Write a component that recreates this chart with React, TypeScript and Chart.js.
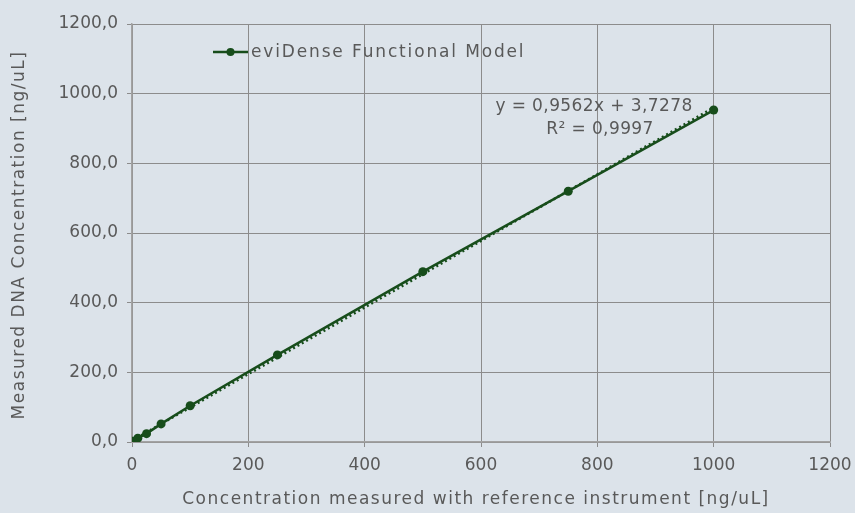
import React, { useEffect, useRef } from "react";
import { Chart, registerables } from "chart.js";

Chart.register(...registerables);

const refConc = [1, 10, 25, 50, 100, 250, 500, 750, 1000];
const measured = [2, 11, 24, 52, 104, 250, 489, 720, 953];
const trendX = [1, 1000];
const trendY = [4.7, 959.9];
const seriesName = "eviDense Functional Model";
const equationLines = ["y = 0,9562x + 3,7278", "R² = 0,9997"];
const xTitle = "Concentration measured with reference instrument [ng/uL]";
const yTitle = "Measured DNA Concentration [ng/uL]";

const GREEN = "#174d1b";
const TEXT = "#595959";
const FONT = "'DejaVu Sans', sans-serif";
const BG = "#dce3ea";

export default function App() {
  const ref = useRef<HTMLCanvasElement | null>(null);
  useEffect(() => {
    document.body.style.margin = "0";
    const ctx = ref.current!.getContext("2d")!;
    const overlay = {
      id: "overlay",
      afterDraw(chart: any) {
        const c = chart.ctx;
        const a = chart.chartArea;
        c.save();
        c.font = `17px ${FONT}`;
        (c as any).letterSpacing = "1.5px";
        c.fillStyle = TEXT;
        c.textBaseline = "middle";
        // axis titles
        c.textAlign = "center";
        c.fillText(xTitle, (a.left + a.right) / 2 - 5, 500);
        c.save();
        c.translate(20, (a.top + a.bottom) / 2 + 2);
        c.rotate(-Math.PI / 2);
        c.fillText(yTitle, 0, 0);
        c.restore();
        // legend
        const ly = a.top + 28;
        const lx = a.left + 81;
        c.strokeStyle = GREEN;
        c.lineWidth = 2.5;
        c.beginPath();
        c.moveTo(lx, ly);
        c.lineTo(lx + 35, ly);
        c.stroke();
        c.fillStyle = GREEN;
        c.beginPath();
        c.arc(lx + 17.5, ly, 4, 0, Math.PI * 2);
        c.fill();
        c.fillStyle = TEXT;
        c.textAlign = "left";
        (c as any).letterSpacing = "1.85px";
        c.fillText(seriesName, lx + 38, ly + 1);
        // equation
        (c as any).letterSpacing = "0.4px";
        c.textAlign = "center";
        c.fillText(equationLines[0], a.left + 462, a.top + 83);
        c.fillText(equationLines[1], a.left + 468, a.top + 106);
        c.restore();
      },
    };
    const chart = new Chart(ctx, {
      type: "scatter",
      data: {
        datasets: [
          {
            label: "Linear",
            data: trendX.map((x, i) => ({ x, y: trendY[i] })),
            showLine: true,
            borderColor: GREEN,
            borderWidth: 2.5,
            borderDash: [2, 3],
            pointRadius: 0,
            order: 2,
          },
          {
            label: seriesName,
            data: refConc.map((x, i) => ({ x, y: measured[i] })),
            showLine: true,
            borderColor: GREEN,
            backgroundColor: GREEN,
            borderWidth: 2.5,
            pointRadius: 4.5,
            pointBorderWidth: 0,
            order: 1,
          },
        ],
      },
      options: {
        animation: false,
        responsive: false,
        layout: { padding: { left: 0, right: 25, top: 24, bottom: 0 } },
        plugins: { legend: { display: false }, tooltip: { enabled: false } },
        scales: {
          x: {
            type: "linear",
            min: 0,
            max: 1200,
            ticks: {
              stepSize: 200,
              color: TEXT,
              font: { family: FONT, size: 17 },
              padding: 8,
              callback: (v: any) => String(v),
            },
            grid: { color: "#8c8c8c", tickLength: 5, lineWidth: 1 },
            border: { color: "#a3a3a3", width: 1.5 },
            afterFit: (s: any) => { s.height = 71; s.paddingRight = 0; s.paddingLeft = 0; },
          },
          y: {
            type: "linear",
            min: 0,
            max: 1200,
            ticks: {
              stepSize: 200,
              color: TEXT,
              font: { family: FONT, size: 17 },
              padding: 9,
              callback: (v: any) => Number(v).toFixed(1).replace(".", ","),
            },
            grid: { color: "#8c8c8c", tickLength: 5, lineWidth: 1 },
            border: { color: "#a3a3a3", width: 1.5 },
            afterFit: (s: any) => { s.width = 132; s.paddingTop = 0; s.paddingBottom = 0; },
          },
        },
      },
      plugins: [overlay],
    });
    return () => chart.destroy();
  }, []);
  return (
    <div style={{ width: 855, height: 513, background: BG }}>
      <canvas ref={ref} width={855} height={513} style={{ display: "block" }} />
    </div>
  );
}
